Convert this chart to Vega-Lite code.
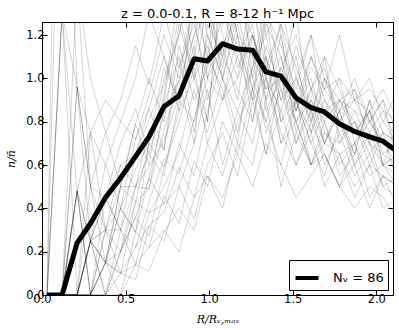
{
"$schema": "https://vega.github.io/schema/vega-lite/v6.json",
"width": 351, "height": 273,
"autosize": {"type": "none"},
"padding": {"left": 42, "top": 22, "right": 6, "bottom": 35},
"background": "white",
"config": {"view": {"stroke": "black", "strokeWidth": 1}, "font": "DejaVu Sans"},
"title": {"text": "z = 0.0-0.1, R = 8-12 h⁻¹ Mpc", "fontSize": 13, "font": "DejaVu Sans", "fontWeight": "normal", "offset": 1, "anchor": "middle", "color": "black"},
"datasets": {
"gray": [
{"g":1,"x":0.03,"y":0},{"g":1,"x":0.12,"y":0},{"g":1,"x":0.21,"y":0},{"g":1,"x":0.29,"y":0.25},{"g":1,"x":0.38,"y":0},{"g":1,"x":0.47,"y":0.2},{"g":1,"x":0.56,"y":0.36},{"g":1,"x":0.64,"y":0.54},{"g":1,"x":0.73,"y":0.84},{"g":1,"x":0.82,"y":0.99},{"g":1,"x":0.91,"y":1.2},{"g":1,"x":0.99,"y":1.3},{"g":1,"x":1.08,"y":1.05},{"g":1,"x":1.17,"y":1.4},{"g":1,"x":1.26,"y":1.1},{"g":1,"x":1.34,"y":0.95},{"g":1,"x":1.43,"y":1.0},{"g":1,"x":1.52,"y":0.8},{"g":1,"x":1.61,"y":0.9},{"g":1,"x":1.69,"y":0.7},{"g":1,"x":1.78,"y":0.85},{"g":1,"x":1.87,"y":0.6},{"g":1,"x":1.96,"y":0.75},{"g":1,"x":2.04,"y":0.7},{"g":1,"x":2.13,"y":0.65},
{"g":2,"x":0.03,"y":0},{"g":2,"x":0.12,"y":0},{"g":2,"x":0.21,"y":0.48},{"g":2,"x":0.29,"y":0},{"g":2,"x":0.38,"y":0.3},{"g":2,"x":0.47,"y":0.3},{"g":2,"x":0.56,"y":0.5},{"g":2,"x":0.64,"y":0.65},{"g":2,"x":0.73,"y":0.55},{"g":2,"x":0.82,"y":0.9},{"g":2,"x":0.91,"y":0.8},{"g":2,"x":0.99,"y":1.1},{"g":2,"x":1.08,"y":0.95},{"g":2,"x":1.17,"y":0.7},{"g":2,"x":1.26,"y":1.2},{"g":2,"x":1.34,"y":1.0},{"g":2,"x":1.43,"y":0.85},{"g":2,"x":1.52,"y":1.1},{"g":2,"x":1.61,"y":0.75},{"g":2,"x":1.69,"y":0.9},{"g":2,"x":1.78,"y":0.8},{"g":2,"x":1.87,"y":0.95},{"g":2,"x":1.96,"y":0.7},{"g":2,"x":2.04,"y":0.6},{"g":2,"x":2.13,"y":0.8},
{"g":3,"x":0.03,"y":0},{"g":3,"x":0.12,"y":1.3},{"g":3,"x":0.21,"y":0},{"g":3,"x":0.29,"y":0.25},{"g":3,"x":0.38,"y":0.15},{"g":3,"x":0.47,"y":0.4},{"g":3,"x":0.56,"y":0.29},{"g":3,"x":0.64,"y":0.7},{"g":3,"x":0.73,"y":0.9},{"g":3,"x":0.82,"y":1.3},{"g":3,"x":0.91,"y":1.0},{"g":3,"x":0.99,"y":0.8},{"g":3,"x":1.08,"y":1.5},{"g":3,"x":1.17,"y":1.2},{"g":3,"x":1.26,"y":0.9},{"g":3,"x":1.34,"y":1.3},{"g":3,"x":1.43,"y":0.8},{"g":3,"x":1.52,"y":0.9},{"g":3,"x":1.61,"y":0.6},{"g":3,"x":1.69,"y":0.8},{"g":3,"x":1.78,"y":0.55},{"g":3,"x":1.87,"y":0.65},{"g":3,"x":1.96,"y":0.9},{"g":3,"x":2.04,"y":0.6},{"g":3,"x":2.13,"y":0.55},
{"g":4,"x":0.03,"y":0},{"g":4,"x":0.12,"y":0},{"g":4,"x":0.21,"y":0},{"g":4,"x":0.29,"y":0},{"g":4,"x":0.38,"y":0.15},{"g":4,"x":0.47,"y":0.2},{"g":4,"x":0.56,"y":0.43},{"g":4,"x":0.64,"y":0.38},{"g":4,"x":0.73,"y":0.5},{"g":4,"x":0.82,"y":0.66},{"g":4,"x":0.91,"y":0.95},{"g":4,"x":0.99,"y":0.75},{"g":4,"x":1.08,"y":1.0},{"g":4,"x":1.17,"y":1.3},{"g":4,"x":1.26,"y":1.4},{"g":4,"x":1.34,"y":0.9},{"g":4,"x":1.43,"y":1.2},{"g":4,"x":1.52,"y":0.75},{"g":4,"x":1.61,"y":0.95},{"g":4,"x":1.69,"y":1.1},{"g":4,"x":1.78,"y":0.7},{"g":4,"x":1.87,"y":0.8},{"g":4,"x":1.96,"y":0.6},{"g":4,"x":2.04,"y":0.75},{"g":4,"x":2.13,"y":0.5},
{"g":5,"x":0.03,"y":0},{"g":5,"x":0.12,"y":0},{"g":5,"x":0.21,"y":0.96},{"g":5,"x":0.29,"y":0.5},{"g":5,"x":0.38,"y":0.45},{"g":5,"x":0.47,"y":0.6},{"g":5,"x":0.56,"y":0.65},{"g":5,"x":0.64,"y":0.86},{"g":5,"x":0.73,"y":1.1},{"g":5,"x":0.82,"y":0.85},{"g":5,"x":0.91,"y":1.4},{"g":5,"x":0.99,"y":1.6},{"g":5,"x":1.08,"y":1.2},{"g":5,"x":1.17,"y":1.0},{"g":5,"x":1.26,"y":1.45},{"g":5,"x":1.34,"y":1.1},{"g":5,"x":1.43,"y":0.9},{"g":5,"x":1.52,"y":1.0},{"g":5,"x":1.61,"y":1.2},{"g":5,"x":1.69,"y":0.8},{"g":5,"x":1.78,"y":0.9},{"g":5,"x":1.87,"y":0.85},{"g":5,"x":1.96,"y":0.7},{"g":5,"x":2.04,"y":0.8},{"g":5,"x":2.13,"y":0.7},
{"g":6,"x":0.03,"y":0},{"g":6,"x":0.12,"y":0},{"g":6,"x":0.21,"y":0},{"g":6,"x":0.29,"y":0},{"g":6,"x":0.38,"y":0},{"g":6,"x":0.47,"y":0},{"g":6,"x":0.56,"y":0.14},{"g":6,"x":0.64,"y":0.22},{"g":6,"x":0.73,"y":0.3},{"g":6,"x":0.82,"y":0.2},{"g":6,"x":0.91,"y":0.45},{"g":6,"x":0.99,"y":0.55},{"g":6,"x":1.08,"y":0.4},{"g":6,"x":1.17,"y":0.7},{"g":6,"x":1.26,"y":0.6},{"g":6,"x":1.34,"y":0.9},{"g":6,"x":1.43,"y":0.5},{"g":6,"x":1.52,"y":0.75},{"g":6,"x":1.61,"y":0.6},{"g":6,"x":1.69,"y":0.65},{"g":6,"x":1.78,"y":0.5},{"g":6,"x":1.87,"y":0.7},{"g":6,"x":1.96,"y":0.45},{"g":6,"x":2.04,"y":0.55},{"g":6,"x":2.13,"y":0.4},
{"g":7,"x":0.03,"y":0},{"g":7,"x":0.12,"y":0},{"g":7,"x":0.21,"y":0.48},{"g":7,"x":0.29,"y":0.25},{"g":7,"x":0.38,"y":0.3},{"g":7,"x":0.47,"y":0.1},{"g":7,"x":0.56,"y":0.43},{"g":7,"x":0.64,"y":0.49},{"g":7,"x":0.73,"y":0.76},{"g":7,"x":0.82,"y":0.99},{"g":7,"x":0.91,"y":0.7},{"g":7,"x":0.99,"y":1.25},{"g":7,"x":1.08,"y":1.1},{"g":7,"x":1.17,"y":1.5},{"g":7,"x":1.26,"y":1.3},{"g":7,"x":1.34,"y":1.6},{"g":7,"x":1.43,"y":1.2},{"g":7,"x":1.52,"y":0.85},{"g":7,"x":1.61,"y":1.05},{"g":7,"x":1.69,"y":0.95},{"g":7,"x":1.78,"y":1.2},{"g":7,"x":1.87,"y":0.9},{"g":7,"x":1.96,"y":1.0},{"g":7,"x":2.04,"y":0.8},{"g":7,"x":2.13,"y":0.95},
{"g":8,"x":0.03,"y":0},{"g":8,"x":0.12,"y":0},{"g":8,"x":0.21,"y":0},{"g":8,"x":0.29,"y":0.5},{"g":8,"x":0.38,"y":0.3},{"g":8,"x":0.47,"y":0.5},{"g":8,"x":0.56,"y":0.79},{"g":8,"x":0.64,"y":0.6},{"g":8,"x":0.73,"y":1.0},{"g":8,"x":0.82,"y":1.2},{"g":8,"x":0.91,"y":1.6},{"g":8,"x":0.99,"y":1.0},{"g":8,"x":1.08,"y":1.3},{"g":8,"x":1.17,"y":1.1},{"g":8,"x":1.26,"y":0.9},{"g":8,"x":1.34,"y":1.0},{"g":8,"x":1.43,"y":0.7},{"g":8,"x":1.52,"y":0.8},{"g":8,"x":1.61,"y":0.6},{"g":8,"x":1.69,"y":0.7},{"g":8,"x":1.78,"y":0.65},{"g":8,"x":1.87,"y":0.5},{"g":8,"x":1.96,"y":0.6},{"g":8,"x":2.04,"y":0.55},{"g":8,"x":2.13,"y":0.5},
{"g":9,"x":0.03,"y":0},{"g":9,"x":0.12,"y":2.6},{"g":9,"x":0.21,"y":0.96},{"g":9,"x":0.29,"y":0.75},{"g":9,"x":0.38,"y":0.6},{"g":9,"x":0.47,"y":0.8},{"g":9,"x":0.56,"y":1.0},{"g":9,"x":0.64,"y":1.3},{"g":9,"x":0.73,"y":1.1},{"g":9,"x":0.82,"y":0.9},{"g":9,"x":0.91,"y":1.2},{"g":9,"x":0.99,"y":1.4},{"g":9,"x":1.08,"y":1.0},{"g":9,"x":1.17,"y":1.25},{"g":9,"x":1.26,"y":0.95},{"g":9,"x":1.34,"y":1.1},{"g":9,"x":1.43,"y":0.8},{"g":9,"x":1.52,"y":1.0},{"g":9,"x":1.61,"y":0.85},{"g":9,"x":1.69,"y":0.7},{"g":9,"x":1.78,"y":0.9},{"g":9,"x":1.87,"y":0.75},{"g":9,"x":1.96,"y":0.85},{"g":9,"x":2.04,"y":0.65},{"g":9,"x":2.13,"y":0.7},
{"g":10,"x":0.03,"y":0},{"g":10,"x":0.12,"y":0},{"g":10,"x":0.21,"y":0},{"g":10,"x":0.29,"y":0},{"g":10,"x":0.38,"y":0.15},{"g":10,"x":0.47,"y":0.1},{"g":10,"x":0.56,"y":0.07},{"g":10,"x":0.64,"y":0.32},{"g":10,"x":0.73,"y":0.25},{"g":10,"x":0.82,"y":0.5},{"g":10,"x":0.91,"y":0.35},{"g":10,"x":0.99,"y":0.6},{"g":10,"x":1.08,"y":0.75},{"g":10,"x":1.17,"y":0.55},{"g":10,"x":1.26,"y":0.9},{"g":10,"x":1.34,"y":0.65},{"g":10,"x":1.43,"y":1.0},{"g":10,"x":1.52,"y":0.7},{"g":10,"x":1.61,"y":0.85},{"g":10,"x":1.69,"y":0.6},{"g":10,"x":1.78,"y":0.75},{"g":10,"x":1.87,"y":0.55},{"g":10,"x":1.96,"y":0.65},{"g":10,"x":2.04,"y":0.5},{"g":10,"x":2.13,"y":0.45},
{"g":11,"x":0.03,"y":0},{"g":11,"x":0.12,"y":0},{"g":11,"x":0.21,"y":0},{"g":11,"x":0.29,"y":0.25},{"g":11,"x":0.38,"y":0.45},{"g":11,"x":0.47,"y":0.3},{"g":11,"x":0.56,"y":0.22},{"g":11,"x":0.64,"y":0.43},{"g":11,"x":0.73,"y":0.63},{"g":11,"x":0.82,"y":0.56},{"g":11,"x":0.91,"y":0.81},{"g":11,"x":0.99,"y":1.0},{"g":11,"x":1.08,"y":1.15},{"g":11,"x":1.17,"y":0.9},{"g":11,"x":1.26,"y":1.35},{"g":11,"x":1.34,"y":1.05},{"g":11,"x":1.43,"y":1.25},{"g":11,"x":1.52,"y":0.9},{"g":11,"x":1.61,"y":1.1},{"g":11,"x":1.69,"y":0.95},{"g":11,"x":1.78,"y":0.85},{"g":11,"x":1.87,"y":1.0},{"g":11,"x":1.96,"y":0.8},{"g":11,"x":2.04,"y":0.9},{"g":11,"x":2.13,"y":0.75},
{"g":12,"x":0.03,"y":0},{"g":12,"x":0.12,"y":1.3},{"g":12,"x":0.21,"y":0.48},{"g":12,"x":0.29,"y":0},{"g":12,"x":0.38,"y":0.15},{"g":12,"x":0.47,"y":0.5},{"g":12,"x":0.56,"y":0.5},{"g":12,"x":0.64,"y":0.76},{"g":12,"x":0.73,"y":0.67},{"g":12,"x":0.82,"y":1.15},{"g":12,"x":0.91,"y":0.9},{"g":12,"x":0.99,"y":1.05},{"g":12,"x":1.08,"y":1.5},{"g":12,"x":1.17,"y":1.2},{"g":12,"x":1.26,"y":0.8},{"g":12,"x":1.34,"y":1.15},{"g":12,"x":1.43,"y":0.95},{"g":12,"x":1.52,"y":0.7},{"g":12,"x":1.61,"y":0.9},{"g":12,"x":1.69,"y":0.8},{"g":12,"x":1.78,"y":0.6},{"g":12,"x":1.87,"y":0.7},{"g":12,"x":1.96,"y":0.85},{"g":12,"x":2.04,"y":0.6},{"g":12,"x":2.13,"y":0.65},
{"g":13,"x":0.03,"y":0},{"g":13,"x":0.12,"y":0},{"g":13,"x":0.21,"y":0},{"g":13,"x":0.29,"y":0},{"g":13,"x":0.38,"y":0},{"g":13,"x":0.47,"y":0.2},{"g":13,"x":0.56,"y":0.36},{"g":13,"x":0.64,"y":0.27},{"g":13,"x":0.73,"y":0.59},{"g":13,"x":0.82,"y":0.8},{"g":13,"x":0.91,"y":1.05},{"g":13,"x":0.99,"y":0.7},{"g":13,"x":1.08,"y":0.9},{"g":13,"x":1.17,"y":1.1},{"g":13,"x":1.26,"y":1.25},{"g":13,"x":1.34,"y":0.85},{"g":13,"x":1.43,"y":1.0},{"g":13,"x":1.52,"y":1.3},{"g":13,"x":1.61,"y":0.8},{"g":13,"x":1.69,"y":0.95},{"g":13,"x":1.78,"y":1.0},{"g":13,"x":1.87,"y":0.7},{"g":13,"x":1.96,"y":0.8},{"g":13,"x":2.04,"y":0.9},{"g":13,"x":2.13,"y":0.6},
{"g":14,"x":0.03,"y":0},{"g":14,"x":0.12,"y":0},{"g":14,"x":0.21,"y":1.44},{"g":14,"x":0.29,"y":0.5},{"g":14,"x":0.38,"y":0.75},{"g":14,"x":0.47,"y":0.5},{"g":14,"x":0.56,"y":0.79},{"g":14,"x":0.64,"y":1.0},{"g":14,"x":0.73,"y":0.8},{"g":14,"x":0.82,"y":1.25},{"g":14,"x":0.91,"y":1.0},{"g":14,"x":0.99,"y":1.35},{"g":14,"x":1.08,"y":1.1},{"g":14,"x":1.17,"y":1.3},{"g":14,"x":1.26,"y":1.0},{"g":14,"x":1.34,"y":0.8},{"g":14,"x":1.43,"y":1.05},{"g":14,"x":1.52,"y":0.9},{"g":14,"x":1.61,"y":0.7},{"g":14,"x":1.69,"y":0.85},{"g":14,"x":1.78,"y":0.9},{"g":14,"x":1.87,"y":0.8},{"g":14,"x":1.96,"y":0.65},{"g":14,"x":2.04,"y":0.75},{"g":14,"x":2.13,"y":0.7},
{"g":15,"x":0.03,"y":0},{"g":15,"x":0.12,"y":0},{"g":15,"x":0.21,"y":0},{"g":15,"x":0.29,"y":0.25},{"g":15,"x":0.38,"y":0},{"g":15,"x":0.47,"y":0.3},{"g":15,"x":0.56,"y":0.14},{"g":15,"x":0.64,"y":0.38},{"g":15,"x":0.73,"y":0.42},{"g":15,"x":0.82,"y":0.5},{"g":15,"x":0.91,"y":0.7},{"g":15,"x":0.99,"y":0.95},{"g":15,"x":1.08,"y":0.6},{"g":15,"x":1.17,"y":0.85},{"g":15,"x":1.26,"y":0.7},{"g":15,"x":1.34,"y":1.0},{"g":15,"x":1.43,"y":0.75},{"g":15,"x":1.52,"y":0.6},{"g":15,"x":1.61,"y":0.8},{"g":15,"x":1.69,"y":0.65},{"g":15,"x":1.78,"y":0.5},{"g":15,"x":1.87,"y":0.6},{"g":15,"x":1.96,"y":0.4},{"g":15,"x":2.04,"y":0.55},{"g":15,"x":2.13,"y":0.5},
{"g":16,"x":0.03,"y":0},{"g":16,"x":0.12,"y":0},{"g":16,"x":0.21,"y":0.48},{"g":16,"x":0.29,"y":0.25},{"g":16,"x":0.38,"y":0.6},{"g":16,"x":0.47,"y":0.4},{"g":16,"x":0.56,"y":0.58},{"g":16,"x":0.64,"y":0.7},{"g":16,"x":0.73,"y":1.05},{"g":16,"x":0.82,"y":0.9},{"g":16,"x":0.91,"y":1.15},{"g":16,"x":0.99,"y":0.8},{"g":16,"x":1.08,"y":1.45},{"g":16,"x":1.17,"y":1.05},{"g":16,"x":1.26,"y":1.2},{"g":16,"x":1.34,"y":0.95},{"g":16,"x":1.43,"y":1.1},{"g":16,"x":1.52,"y":0.85},{"g":16,"x":1.61,"y":1.0},{"g":16,"x":1.69,"y":0.75},{"g":16,"x":1.78,"y":0.7},{"g":16,"x":1.87,"y":0.85},{"g":16,"x":1.96,"y":0.8},{"g":16,"x":2.04,"y":0.7},{"g":16,"x":2.13,"y":0.6},
{"g":17,"x":0.03,"y":0},{"g":17,"x":0.12,"y":0},{"g":17,"x":0.21,"y":0},{"g":17,"x":0.29,"y":0},{"g":17,"x":0.38,"y":0.3},{"g":17,"x":0.47,"y":0.6},{"g":17,"x":0.56,"y":0.5},{"g":17,"x":0.64,"y":0.49},{"g":17,"x":0.73,"y":0.88},{"g":17,"x":0.82,"y":1.1},{"g":17,"x":0.91,"y":0.75},{"g":17,"x":0.99,"y":1.2},{"g":17,"x":1.08,"y":1.0},{"g":17,"x":1.17,"y":0.75},{"g":17,"x":1.26,"y":1.05},{"g":17,"x":1.34,"y":1.2},{"g":17,"x":1.43,"y":0.9},{"g":17,"x":1.52,"y":1.15},{"g":17,"x":1.61,"y":0.95},{"g":17,"x":1.69,"y":1.05},{"g":17,"x":1.78,"y":0.8},{"g":17,"x":1.87,"y":0.9},{"g":17,"x":1.96,"y":0.95},{"g":17,"x":2.04,"y":0.85},{"g":17,"x":2.13,"y":0.8},
{"g":18,"x":0.03,"y":0},{"g":18,"x":0.12,"y":3.9},{"g":18,"x":0.21,"y":1.44},{"g":18,"x":0.29,"y":1.0},{"g":18,"x":0.38,"y":0.75},{"g":18,"x":0.47,"y":0.9},{"g":18,"x":0.56,"y":1.15},{"g":18,"x":0.64,"y":0.97},{"g":18,"x":0.73,"y":1.3},{"g":18,"x":0.82,"y":1.05},{"g":18,"x":0.91,"y":1.25},{"g":18,"x":0.99,"y":1.0},{"g":18,"x":1.08,"y":0.9},{"g":18,"x":1.17,"y":1.2},{"g":18,"x":1.26,"y":1.1},{"g":18,"x":1.34,"y":0.75},{"g":18,"x":1.43,"y":0.95},{"g":18,"x":1.52,"y":0.8},{"g":18,"x":1.61,"y":0.6},{"g":18,"x":1.69,"y":0.75},{"g":18,"x":1.78,"y":0.65},{"g":18,"x":1.87,"y":0.7},{"g":18,"x":1.96,"y":0.55},{"g":18,"x":2.04,"y":0.6},{"g":18,"x":2.13,"y":0.5},
{"g":19,"x":0.03,"y":0},{"g":19,"x":0.12,"y":0},{"g":19,"x":0.21,"y":0},{"g":19,"x":0.29,"y":0.25},{"g":19,"x":0.38,"y":0.15},{"g":19,"x":0.47,"y":0},{"g":19,"x":0.56,"y":0.29},{"g":19,"x":0.64,"y":0.22},{"g":19,"x":0.73,"y":0.46},{"g":19,"x":0.82,"y":0.33},{"g":19,"x":0.91,"y":0.62},{"g":19,"x":0.99,"y":0.5},{"g":19,"x":1.08,"y":0.8},{"g":19,"x":1.17,"y":0.65},{"g":19,"x":1.26,"y":0.95},{"g":19,"x":1.34,"y":0.8},{"g":19,"x":1.43,"y":0.6},{"g":19,"x":1.52,"y":0.9},{"g":19,"x":1.61,"y":0.7},{"g":19,"x":1.69,"y":0.55},{"g":19,"x":1.78,"y":0.8},{"g":19,"x":1.87,"y":0.6},{"g":19,"x":1.96,"y":0.7},{"g":19,"x":2.04,"y":0.5},{"g":19,"x":2.13,"y":0.55},
{"g":20,"x":0.03,"y":0},{"g":20,"x":0.12,"y":0},{"g":20,"x":0.21,"y":0.48},{"g":20,"x":0.29,"y":0},{"g":20,"x":0.38,"y":0.45},{"g":20,"x":0.47,"y":0.7},{"g":20,"x":0.56,"y":0.86},{"g":20,"x":0.64,"y":0.65},{"g":20,"x":0.73,"y":0.92},{"g":20,"x":0.82,"y":1.4},{"g":20,"x":0.91,"y":1.1},{"g":20,"x":0.99,"y":1.45},{"g":20,"x":1.08,"y":1.25},{"g":20,"x":1.17,"y":1.6},{"g":20,"x":1.26,"y":1.0},{"g":20,"x":1.34,"y":1.3},{"g":20,"x":1.43,"y":1.15},{"g":20,"x":1.52,"y":0.95},{"g":20,"x":1.61,"y":1.2},{"g":20,"x":1.69,"y":1.0},{"g":20,"x":1.78,"y":0.85},{"g":20,"x":1.87,"y":0.9},{"g":20,"x":1.96,"y":0.75},{"g":20,"x":2.04,"y":0.85},{"g":20,"x":2.13,"y":0.7},
{"g":21,"x":0.03,"y":0},{"g":21,"x":0.12,"y":0},{"g":21,"x":0.21,"y":0},{"g":21,"x":0.29,"y":0.75},{"g":21,"x":0.38,"y":0.3},{"g":21,"x":0.47,"y":0.2},{"g":21,"x":0.56,"y":0.5},{"g":21,"x":0.64,"y":0.59},{"g":21,"x":0.73,"y":0.71},{"g":21,"x":0.82,"y":0.92},{"g":21,"x":0.91,"y":1.3},{"g":21,"x":0.99,"y":0.9},{"g":21,"x":1.08,"y":1.15},{"g":21,"x":1.17,"y":1.3},{"g":21,"x":1.26,"y":1.55},{"g":21,"x":1.34,"y":1.2},{"g":21,"x":1.43,"y":1.35},{"g":21,"x":1.52,"y":1.0},{"g":21,"x":1.61,"y":0.8},{"g":21,"x":1.69,"y":1.1},{"g":21,"x":1.78,"y":0.95},{"g":21,"x":1.87,"y":0.75},{"g":21,"x":1.96,"y":0.85},{"g":21,"x":2.04,"y":0.7},{"g":21,"x":2.13,"y":0.8},
{"g":22,"x":0.03,"y":0},{"g":22,"x":0.12,"y":0},{"g":22,"x":0.21,"y":0},{"g":22,"x":0.29,"y":0},{"g":22,"x":0.38,"y":0.15},{"g":22,"x":0.47,"y":0.4},{"g":22,"x":0.56,"y":0.29},{"g":22,"x":0.64,"y":0.54},{"g":22,"x":0.73,"y":0.42},{"g":22,"x":0.82,"y":0.7},{"g":22,"x":0.91,"y":0.55},{"g":22,"x":0.99,"y":0.85},{"g":22,"x":1.08,"y":1.1},{"g":22,"x":1.17,"y":0.95},{"g":22,"x":1.26,"y":0.8},{"g":22,"x":1.34,"y":1.1},{"g":22,"x":1.43,"y":0.7},{"g":22,"x":1.52,"y":0.9},{"g":22,"x":1.61,"y":0.75},{"g":22,"x":1.69,"y":1.0},{"g":22,"x":1.78,"y":0.8},{"g":22,"x":1.87,"y":0.65},{"g":22,"x":1.96,"y":0.9},{"g":22,"x":2.04,"y":0.75},{"g":22,"x":2.13,"y":0.7},
{"g":23,"x":0.03,"y":0},{"g":23,"x":0.12,"y":1.3},{"g":23,"x":0.21,"y":0.96},{"g":23,"x":0.29,"y":0.25},{"g":23,"x":0.38,"y":0.45},{"g":23,"x":0.47,"y":0.3},{"g":23,"x":0.56,"y":0.65},{"g":23,"x":0.64,"y":0.81},{"g":23,"x":0.73,"y":0.97},{"g":23,"x":0.82,"y":1.2},{"g":23,"x":0.91,"y":1.5},{"g":23,"x":0.99,"y":1.2},{"g":23,"x":1.08,"y":1.0},{"g":23,"x":1.17,"y":0.85},{"g":23,"x":1.26,"y":1.05},{"g":23,"x":1.34,"y":1.35},{"g":23,"x":1.43,"y":1.0},{"g":23,"x":1.52,"y":0.85},{"g":23,"x":1.61,"y":1.1},{"g":23,"x":1.69,"y":0.9},{"g":23,"x":1.78,"y":0.75},{"g":23,"x":1.87,"y":0.8},{"g":23,"x":1.96,"y":0.7},{"g":23,"x":2.04,"y":0.65},{"g":23,"x":2.13,"y":0.6},
{"g":24,"x":0.03,"y":0},{"g":24,"x":0.12,"y":0},{"g":24,"x":0.21,"y":0},{"g":24,"x":0.29,"y":0.25},{"g":24,"x":0.38,"y":0.15},{"g":24,"x":0.47,"y":0.1},{"g":24,"x":0.56,"y":0.22},{"g":24,"x":0.64,"y":0.32},{"g":24,"x":0.73,"y":0.38},{"g":24,"x":0.82,"y":0.59},{"g":24,"x":0.91,"y":0.45},{"g":24,"x":0.99,"y":0.7},{"g":24,"x":1.08,"y":0.55},{"g":24,"x":1.17,"y":0.8},{"g":24,"x":1.26,"y":0.95},{"g":24,"x":1.34,"y":0.65},{"g":24,"x":1.43,"y":0.85},{"g":24,"x":1.52,"y":0.6},{"g":24,"x":1.61,"y":0.75},{"g":24,"x":1.69,"y":0.5},{"g":24,"x":1.78,"y":0.65},{"g":24,"x":1.87,"y":0.45},{"g":24,"x":1.96,"y":0.6},{"g":24,"x":2.04,"y":0.4},{"g":24,"x":2.13,"y":0.45},
{"g":25,"x":0.03,"y":0},{"g":25,"x":0.12,"y":0},{"g":25,"x":0.21,"y":0.48},{"g":25,"x":0.29,"y":0.75},{"g":25,"x":0.38,"y":0.9},{"g":25,"x":0.47,"y":0.8},{"g":25,"x":0.56,"y":0.72},{"g":25,"x":0.64,"y":0.92},{"g":25,"x":0.73,"y":1.2},{"g":25,"x":0.82,"y":1.0},{"g":25,"x":0.91,"y":1.35},{"g":25,"x":0.99,"y":1.1},{"g":25,"x":1.08,"y":1.6},{"g":25,"x":1.17,"y":1.35},{"g":25,"x":1.26,"y":1.2},{"g":25,"x":1.34,"y":1.0},{"g":25,"x":1.43,"y":1.25},{"g":25,"x":1.52,"y":1.05},{"g":25,"x":1.61,"y":0.85},{"g":25,"x":1.69,"y":1.0},{"g":25,"x":1.78,"y":0.9},{"g":25,"x":1.87,"y":0.95},{"g":25,"x":1.96,"y":0.8},{"g":25,"x":2.04,"y":0.7},{"g":25,"x":2.13,"y":0.75},
{"g":26,"x":0.03,"y":0},{"g":26,"x":0.12,"y":0},{"g":26,"x":0.21,"y":0},{"g":26,"x":0.29,"y":0},{"g":26,"x":0.38,"y":0},{"g":26,"x":0.47,"y":0.1},{"g":26,"x":0.56,"y":0.14},{"g":26,"x":0.64,"y":0.11},{"g":26,"x":0.73,"y":0.29},{"g":26,"x":0.82,"y":0.4},{"g":26,"x":0.91,"y":0.3},{"g":26,"x":0.99,"y":0.55},{"g":26,"x":1.08,"y":0.45},{"g":26,"x":1.17,"y":0.65},{"g":26,"x":1.26,"y":0.5},{"g":26,"x":1.34,"y":0.7},{"g":26,"x":1.43,"y":0.6},{"g":26,"x":1.52,"y":0.45},{"g":26,"x":1.61,"y":0.55},{"g":26,"x":1.69,"y":0.65},{"g":26,"x":1.78,"y":0.5},{"g":26,"x":1.87,"y":0.4},{"g":26,"x":1.96,"y":0.5},{"g":26,"x":2.04,"y":0.45},{"g":26,"x":2.13,"y":0.35},
{"g":27,"x":0.03,"y":0},{"g":27,"x":0.12,"y":0},{"g":27,"x":0.21,"y":0.96},{"g":27,"x":0.29,"y":0.5},{"g":27,"x":0.38,"y":0.15},{"g":27,"x":0.47,"y":0.5},{"g":27,"x":0.56,"y":0.43},{"g":27,"x":0.64,"y":0.7},{"g":27,"x":0.73,"y":0.59},{"g":27,"x":0.82,"y":0.85},{"g":27,"x":0.91,"y":1.0},{"g":27,"x":0.99,"y":1.15},{"g":27,"x":1.08,"y":0.9},{"g":27,"x":1.17,"y":1.0},{"g":27,"x":1.26,"y":1.2},{"g":27,"x":1.34,"y":0.9},{"g":27,"x":1.43,"y":1.05},{"g":27,"x":1.52,"y":1.2},{"g":27,"x":1.61,"y":0.95},{"g":27,"x":1.69,"y":0.85},{"g":27,"x":1.78,"y":1.0},{"g":27,"x":1.87,"y":0.9},{"g":27,"x":1.96,"y":0.85},{"g":27,"x":2.04,"y":0.95},{"g":27,"x":2.13,"y":0.8},
{"g":28,"x":0.03,"y":0},{"g":28,"x":0.12,"y":0},{"g":28,"x":0.21,"y":0},{"g":28,"x":0.29,"y":0.25},{"g":28,"x":0.38,"y":0.3},{"g":28,"x":0.47,"y":0.4},{"g":28,"x":0.56,"y":0.72},{"g":28,"x":0.64,"y":0.86},{"g":28,"x":0.73,"y":0.67},{"g":28,"x":0.82,"y":1.05},{"g":28,"x":0.91,"y":1.35},{"g":28,"x":0.99,"y":1.55},{"g":28,"x":1.08,"y":1.3},{"g":28,"x":1.17,"y":1.15},{"g":28,"x":1.26,"y":0.95},{"g":28,"x":1.34,"y":1.25},{"g":28,"x":1.43,"y":1.1},{"g":28,"x":1.52,"y":0.8},{"g":28,"x":1.61,"y":0.95},{"g":28,"x":1.69,"y":0.7},{"g":28,"x":1.78,"y":0.85},{"g":28,"x":1.87,"y":0.65},{"g":28,"x":1.96,"y":0.75},{"g":28,"x":2.04,"y":0.6},{"g":28,"x":2.13,"y":0.65}
],
"mean": [
{"x":0.03,"y":0},{"x":0.12,"y":0},{"x":0.21,"y":0.24},{"x":0.29,"y":0.33},{"x":0.38,"y":0.45},{"x":0.47,"y":0.54},{"x":0.56,"y":0.64},{"x":0.64,"y":0.73},{"x":0.73,"y":0.87},{"x":0.82,"y":0.92},{"x":0.91,"y":1.09},{"x":0.99,"y":1.08},{"x":1.08,"y":1.16},{"x":1.17,"y":1.135},{"x":1.26,"y":1.13},{"x":1.34,"y":1.03},{"x":1.43,"y":1.01},{"x":1.52,"y":0.91},{"x":1.61,"y":0.865},{"x":1.69,"y":0.845},{"x":1.78,"y":0.79},{"x":1.87,"y":0.755},{"x":1.96,"y":0.73},{"x":2.04,"y":0.71},{"x":2.13,"y":0.66}
]
},
"layer": [
{
"data": {"name": "gray"},
"mark": {"type": "line", "clip": true, "color": "black", "opacity": 0.17, "strokeWidth": 1},
"encoding": {
"x": {"field": "x", "type": "quantitative", "scale": {"domain": [0, 2.1], "nice": false, "zero": false},
"axis": {"values": [0, 0.5, 1, 1.5, 2], "format": ".1f", "grid": false, "domain": false, "tickSize": -5, "tickColor": "black", "labelPadding": 3, "labelFontSize": 11.5, "labelFont": "DejaVu Sans", "labelColor": "black", "labelFlush": false,
"title": "R/Rᵥ,ₘₐₓ", "titleFont": "DejaVu Serif", "titleFontStyle": "italic", "titleFontWeight": "normal", "titleFontSize": 11, "titleColor": "black", "titlePadding": 9}},
"y": {"field": "y", "type": "quantitative", "scale": {"domain": [0, 1.26], "nice": false},
"axis": {"values": [0, 0.2, 0.4, 0.6, 0.8, 1.0, 1.2], "format": ".1f", "grid": false, "domain": false, "tickSize": -5, "tickColor": "black", "labelPadding": 3, "labelFontSize": 11.5, "labelFont": "DejaVu Sans", "labelColor": "black", "labelFlush": false,
"title": "n/n̄", "titleFont": "DejaVu Serif", "titleFontStyle": "italic", "titleFontWeight": "normal", "titleFontSize": 11, "titleColor": "black", "titlePadding": 9}},
"detail": {"field": "g", "type": "nominal"}
}
},
{
"data": {"name": "mean"},
"mark": {"type": "line", "clip": true, "strokeWidth": 5, "strokeJoin": "round"},
"encoding": {
"x": {"field": "x", "type": "quantitative", "axis": {"orient": "top", "values": [0, 0.5, 1, 1.5, 2], "labels": false, "title": null, "grid": false, "domain": false, "tickSize": -5, "tickColor": "black"}},
"y": {"field": "y", "type": "quantitative", "axis": {"orient": "right", "values": [0, 0.2, 0.4, 0.6, 0.8, 1.0, 1.2], "labels": false, "title": null, "grid": false, "domain": false, "tickSize": -5, "tickColor": "black"}},
"color": {"datum": "Nᵥ = 86", "type": "nominal", "scale": {"range": ["black"]},
"legend": {"title": null, "orient": "bottom-right", "offset": 5, "strokeColor": "black", "fillColor": "white", "padding": 4, "cornerRadius": 0, "symbolType": "stroke", "symbolStrokeWidth": 4, "symbolSize": 530, "symbolStrokeColor": "black", "labelFontSize": 13, "labelFont": "DejaVu Sans", "labelColor": "black", "labelOffset": 12}}
}
}
],
"resolve": {"axis": {"x": "independent", "y": "independent"}}
}
